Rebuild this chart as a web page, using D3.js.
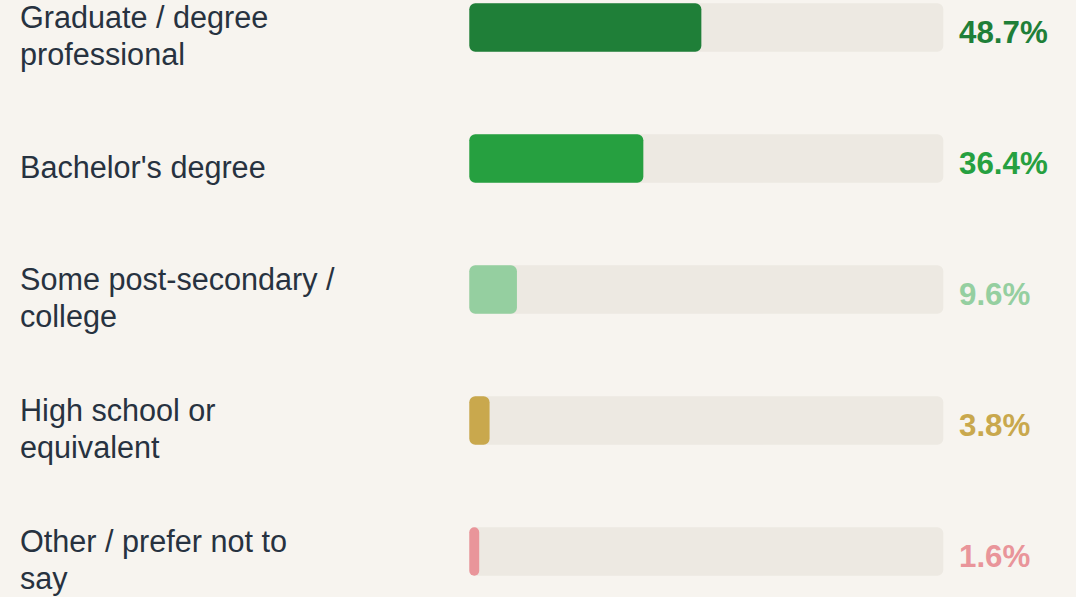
<!DOCTYPE html>
<html>
<head>
<meta charset="utf-8">
<script src="https://cdn.jsdelivr.net/npm/d3@7"></script>
<style>
  html, body { margin: 0; padding: 0; background: #f7f4ef; }
  svg { display: block; }
</style>
</head>
<body>
<svg class="edu-chart"></svg>
<script>
const categories = [
  'Graduate / degree professional',
  "Bachelor's degree",
  'Some post-secondary / college',
  'High school or equivalent',
  'Other / prefer not to say'
]
const shares = [48.7, 36.4, 9.6, 3.8, 1.6]
const barColors = ['#1f7f38', '#26a040', '#95cfa0', '#c9a84d', '#e9959a']

const width = 1076, height = 597
const font = '"Liberation Sans", Arial, Helvetica, sans-serif'

const svg = d3.select('.edu-chart')
  .attr('width', width)
  .attr('height', height)

svg.append('rect')
  .attr('width', width)
  .attr('height', height)
  .attr('fill', '#f7f4ef')

const data = categories.map((c, i) => ({ label: c, value: shares[i], color: barColors[i] }))

const trackX = 469.3, trackW = 474
const rowStep = 131, firstTop = 3.3, barH = 48.4

const y = d3.scaleBand()
  .domain(categories)
  .range([firstTop, firstTop + rowStep * categories.length])
  .paddingInner(0)

// the bars sit a hair wider than a plain percentage of the track
const x = d3.scaleLinear()
  .domain([-0.5, 100])
  .range([0, trackW])

const rows = svg.selectAll('g.row')
  .data(data)
  .join('g')
  .attr('class', 'row')
  .attr('transform', d => 'translate(0,' + y(d.label) + ')')

rows.append('rect')
  .attr('x', trackX)
  .attr('width', trackW)
  .attr('height', barH)
  .attr('rx', 6)
  .attr('fill', '#ede9e2')

rows.append('rect')
  .attr('x', trackX)
  .attr('width', d => x(d.value))
  .attr('height', barH)
  .attr('rx', d => Math.min(6, x(d.value) / 2))
  .attr('fill', d => d.color)

rows.append('text')
  .attr('x', 959)
  .attr('y', 40)
  .attr('fill', d => d.color)
  .style('font-family', font)
  .style('font-size', '31.3px')
  .style('font-weight', 'bold')
  .text(d => d.value.toFixed(1) + '%')

const maxLabelW = 323, lineH = 36.7
rows.append('text')
  .attr('class', 'label')
  .attr('fill', '#273240')
  .style('font-family', font)
  .style('font-size', '30.6px')
  .each(function (d) {
    const t = d3.select(this)
    const words = d.label.split(' ')
    let lines = [], cur = []
    const probe = t.append('tspan')
    for (const w of words) {
      const test = cur.concat(w).join(' ')
      probe.text(test)
      if (probe.node().getComputedTextLength() > maxLabelW && cur.length) {
        lines.push(cur.join(' '))
        cur = [w]
      } else cur.push(w)
    }
    lines.push(cur.join(' '))
    probe.remove()
    const center = 33.5
    const first = center - (lines.length * lineH) / 2 + 28.3
    lines.forEach((l, k) => {
      t.append('tspan')
        .attr('x', 20)
        .attr('y', first + k * lineH)
        .text(l)
    })
  })
</script>
</body>
</html>
